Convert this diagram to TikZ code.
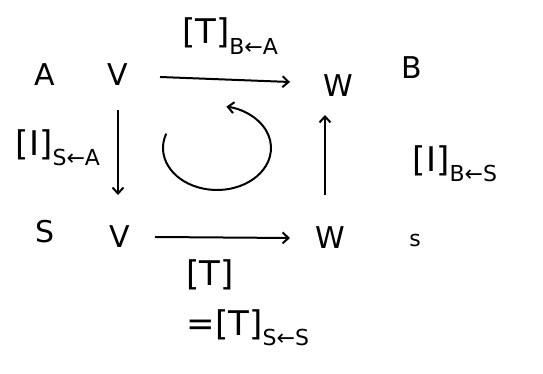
\documentclass[tikz,border=0pt]{standalone}
\usepackage{fontspec}
\setmainfont{DejaVu Sans}
\usetikzlibrary{arrows.meta}
\newcommand{\lowsub}[1]{\raisebox{-0.3em}{\fontsize{22}{24}\selectfont #1}}
\begin{document}
\begin{tikzpicture}[x=1pt,y=1pt,
  lbl/.style={font=\fontsize{30}{32}\selectfont, inner sep=2pt},
  big/.style={font=\fontsize{34}{36}\selectfont, inner sep=2pt},
  sm/.style={font=\fontsize{22}{24}\selectfont, inner sep=2pt},
  arr/.style={line width=2pt, -{Straight Barb[length=6pt,width=11pt,line width=2pt]}}]
\useasboundingbox (0,0) rectangle (543,374);
% objects
\node[lbl] (A) at (45,299) {A};
\node[lbl] (Vt) at (118,299) {V};
\node[lbl] (Wt) at (338,288) {W};
\node[lbl] (B) at (412,306) {B};
\node[lbl] (S) at (45,142) {S};
\node[lbl] (Vb) at (120,137) {V};
\node[lbl] (Wb) at (330,136) {W};
\node[sm] (s) at (415,134) {s};
% labels
\node[big] (Ttop) at (230,338) {[T]\lowsub{B←A}};
\node[big] (Ileft) at (58,226) {[I]\lowsub{S←A}};
\node[big] (Iright) at (455,210) {[I]\lowsub{B←S}};
\node[big] (Tbot) at (210,99) {[T]};
\node[big] (Teq) at (248,46) {=[T]\lowsub{S←S}};
% arrows
\coordinate (t1) at (160,297);
\coordinate (t2) at (290,292);
\draw[arr] (t1) -- (t2);
\coordinate (l1) at (118,264);
\coordinate (l2) at (118,179);
\draw[arr] (l1) -- (l2);
\coordinate (r1) at (325,179);
\coordinate (r2) at (325,259);
\draw[arr] (r1) -- (r2);
\coordinate (b1) at (155,137);
\coordinate (b2) at (290,136);
\draw[arr] (b1) -- (b2);
% circular arrow
\coordinate (c) at (217,226);
\draw[arr] (c) ++(160:54 and 42) arc[start angle=160, end angle=440, x radius=54, y radius=42];
\end{tikzpicture}
\end{document}
